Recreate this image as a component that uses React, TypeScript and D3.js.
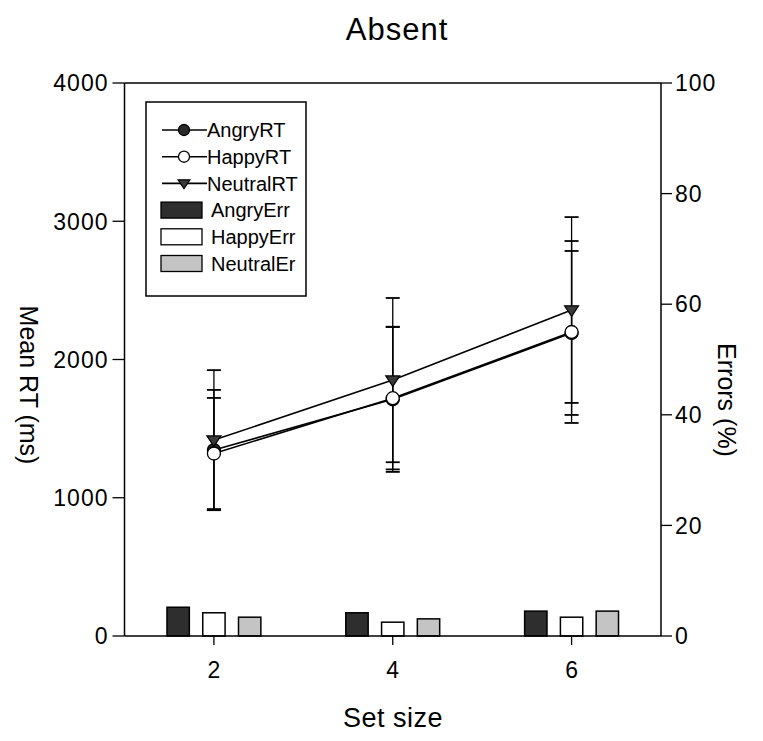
import React from "react";
import * as d3 from "d3";

const setSizes = [2, 4, 6];
const angryRT = [1345, 1712, 2192];
const angryRTErr = [435, 525, 593];
const happyRT = [1320, 1720, 2199];
const happyRTErr = [402, 515, 658];
const neutralRT = [1417, 1851, 2358];
const neutralRTErr = [506, 594, 672];
const angryErrPct = [5.2, 4.2, 4.5];
const happyErrPct = [4.2, 2.5, 3.4];
const neutralErrPct = [3.4, 3.1, 4.5];
const rtTicks = [0, 1000, 2000, 3000, 4000];
const errTicks = [0, 20, 40, 60, 80, 100];
const legendLabels = ["AngryRT", "HappyRT", "NeutralRT", "AngryErr", "HappyErr", "NeutralEr"];

const W = 763, H = 741;
const L = 124.5, R = 661, T = 83, B = 636;
const FONT = "'Liberation Sans', Arial, sans-serif";

export default function App() {
  const x = d3.scaleLinear().domain([1, 7]).range([L, R]);
  const y = d3.scaleLinear().domain([0, 4000]).range([B, T]);
  const y2 = d3.scaleLinear().domain([0, 100]).range([B, T]);
  const line = d3.line<number>().x((_, i) => x(setSizes[i])).y((d) => y(d));

  const series = [
    { name: "angry", vals: angryRT, err: angryRTErr, marker: "filled" },
    { name: "happy", vals: happyRT, err: happyRTErr, marker: "open" },
    { name: "neutral", vals: neutralRT, err: neutralRTErr, marker: "tri" },
  ];
  const bars = [
    { vals: angryErrPct, fill: "#2e2e2e", off: -0.4 },
    { vals: happyErrPct, fill: "#ffffff", off: 0 },
    { vals: neutralErrPct, fill: "#c4c4c4", off: 0.4 },
  ];
  const bw = x(1.25) - x(1);

  const marker = (type: string, cx: number, cy: number, key: string, s = 1) => {
    if (type === "tri") {
      const r = 7 * s;
      const p = `M${cx - r},${cy - r * 0.6}L${cx + r},${cy - r * 0.6}L${cx},${cy + r * 0.9}Z`;
      return <path key={key} d={p} fill="#3a3a3a" stroke="#000" strokeWidth={1.2} />;
    }
    return (
      <circle key={key} cx={cx} cy={cy} r={6.5 * s} fill={type === "filled" ? "#2a2a2a" : "#fff"} stroke="#000" strokeWidth={1.3} />
    );
  };

  const capW = 7;
  return (
    <svg width={W} height={H} style={{ position: "absolute", left: 0, top: 0, background: "#fff" }} fontFamily={FONT}>
      {bars.map((b, bi) =>
        b.vals.map((v, i) => (
          <rect key={`b${bi}${i}`} x={x(setSizes[i] + b.off) - bw / 2} y={y2(v)} width={bw} height={B - y2(v)}
            fill={b.fill} stroke="#000" strokeWidth={1.5} />
        ))
      )}
      {series.map((s) =>
        s.vals.map((v, i) => {
          const cx = x(setSizes[i]);
          const yt = y(v + s.err[i]);
          const yb = y(v - s.err[i]);
          return (
            <g key={`e${s.name}${i}`} stroke="#000" strokeWidth={1.3}>
              <line x1={cx} x2={cx} y1={yt} y2={yb} />
              <line x1={cx - capW} x2={cx + capW} y1={yt} y2={yt} strokeWidth={1.8} />
              <line x1={cx - capW} x2={cx + capW} y1={yb} y2={yb} strokeWidth={1.8} />
            </g>
          );
        })
      )}
      {series.map((s) => (
        <path key={`l${s.name}`} d={line(s.vals) || ""} fill="none" stroke="#000" strokeWidth={1.6} />
      ))}
      {series.map((s) => s.vals.map((v, i) => marker(s.marker, x(setSizes[i]), y(v), `m${s.name}${i}`)))}

      <g stroke="#000" strokeWidth={1.5} fill="none">
        <line x1={L} x2={L} y1={T} y2={B} />
        <line x1={R} x2={R} y1={T} y2={B} />
        <line x1={L} x2={R} y1={T} y2={T} />
        <line x1={L} x2={R} y1={B} y2={B} />
      </g>
      {rtTicks.map((t) => (
        <g key={`lt${t}`}>
          <line x1={L - 12} x2={L} y1={y(t)} y2={y(t)} stroke="#000" strokeWidth={1.3} />
          <text x={L - 16} y={y(t)} dy="0.36em" textAnchor="end" fontSize={23} letterSpacing={1}>{t}</text>
        </g>
      ))}
      {errTicks.map((t) => (
        <g key={`rt${t}`}>
          <line x1={R} x2={R + 11} y1={y2(t)} y2={y2(t)} stroke="#000" strokeWidth={1.3} />
          <text x={R + 14} y={y2(t)} dy="0.36em" textAnchor="start" fontSize={23} letterSpacing={1}>{t}</text>
        </g>
      ))}
      {setSizes.map((t) => (
        <g key={`bt${t}`}>
          <line x1={x(t)} x2={x(t)} y1={B} y2={B + 9} stroke="#000" strokeWidth={1.3} />
          <text x={x(t)} y={B + 42} textAnchor="middle" fontSize={23}>{t}</text>
        </g>
      ))}

      <text x={397} y={40} textAnchor="middle" fontSize={31} letterSpacing={1}>Absent</text>
      <text x={393} y={727} textAnchor="middle" fontSize={27} letterSpacing={0.5}>Set size</text>
      <text transform="translate(20,385) rotate(90)" textAnchor="middle" fontSize={25}>Mean RT (ms)</text>
      <text transform="translate(718,400) rotate(90)" textAnchor="middle" fontSize={25}>Errors (%)</text>

      <rect x={146} y={102} width={160} height={194} fill="#fff" stroke="#000" strokeWidth={1.5} />
      {legendLabels.map((lab, i) => {
        const cy = 130 + i * 26.7;
        if (i < 3) {
          return (
            <g key={`lg${i}`}>
              <line x1={162} x2={207} y1={cy} y2={cy} stroke="#000" strokeWidth={1.6} />
              {marker(series[i].marker, 184, cy, `lm${i}`, 0.85)}
              <text x={207} y={cy} dy="0.36em" fontSize={20}>{lab}</text>
            </g>
          );
        }
        return (
          <g key={`lg${i}`}>
            <rect x={161} y={cy - 8} width={41} height={16} fill={bars[i - 3].fill} stroke="#000" strokeWidth={1.3} />
            <text x={211} y={cy} dy="0.36em" fontSize={20}>{lab}</text>
          </g>
        );
      })}
    </svg>
  );
}
